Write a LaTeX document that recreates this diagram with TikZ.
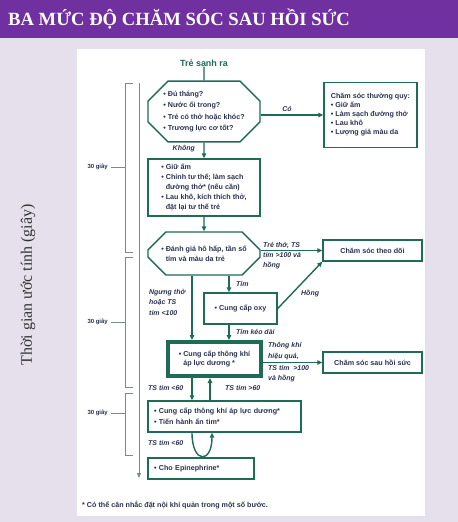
\documentclass[tikz,border=0pt]{standalone}
\usepackage{fontspec}
\setmainfont{Liberation Serif}
\setsansfont{Liberation Sans}
\usetikzlibrary{shapes.misc,arrows.meta}
\definecolor{titlebar}{HTML}{7030A0}
\definecolor{pagebg}{HTML}{E5E0EB}
\definecolor{boxgreen}{HTML}{1E6B56}
\definecolor{boxtext}{HTML}{2B3252}
\definecolor{timegray}{HTML}{7A8A89}
\newcommand{\bl}{\textbullet\ }
\newcommand{\hang}{\hphantom{\textbullet\ }}

\begin{document}
\begin{tikzpicture}[x=1bp,y=-1bp,
  every node/.style={inner sep=0pt,text=boxtext,font=\sffamily\bfseries\fontsize{7.2}{10}\selectfont},
  carebox/.style={draw=boxgreen,line width=1.4bp,rectangle,align=left},
  checkbox/.style={carebox,chamfered rectangle,chamfered rectangle sep=10bp},
  leftbox/.style={carebox,text width=#1,inner xsep=6bp},
  flow/.style={draw=boxgreen,line width=1.4bp,-{Triangle[length=5bp,width=4.5bp]}},
  note/.style={font=\sffamily\bfseries\itshape\fontsize{7}{10.5}\selectfont,align=left},
  timeline/.style={draw=timegray,line width=0.8bp}]
\useasboundingbox (0,0) rectangle (458,522);
% page
\fill[pagebg] (0,0) rectangle (458,522);
\fill[titlebar] (0,0) rectangle (458,38);
\fill[white] (77,49) rectangle (425,516);
\node[anchor=west,text=white,font=\rmfamily\bfseries\fontsize{18.7}{20}\selectfont] (title) at (8,19) {BA MỨC ĐỘ CHĂM SÓC SAU HỒI SỨC};
\node[rotate=90,text=black!80,font=\rmfamily\fontsize{16}{18}\selectfont] (timelabel) at (28,285) {Thời gian ước tính (giây)};

% timeline
\draw[timeline,-{Triangle[length=5bp,width=4bp]}] (139,83) -- (139,478);
\draw[timeline] (133,83) -- (125,83) -- (125,252) -- (133,252);
\draw[timeline] (133,257) -- (125,257) -- (125,387) -- (133,387);
\draw[timeline] (133,393) -- (125,393) -- (125,455) -- (133,455);
\node[anchor=east,font=\sffamily\bfseries\fontsize{6}{7}\selectfont] (first) at (108,167) {30 giây};
\node[anchor=east,font=\sffamily\bfseries\fontsize{6}{7}\selectfont] (second) at (108,322) {30 giây};
\node[anchor=east,font=\sffamily\bfseries\fontsize{6}{7}\selectfont] (third) at (108,413) {30 giây};
\draw[timeline] (first.east) ++(3,0) -- (125,167);
\draw[timeline] (second.east) ++(3,0) -- (125,322);
\draw[timeline] (third.east) ++(3,0) -- (125,413);

% boxes
\node[text=boxgreen,font=\sffamily\bfseries\fontsize{9}{10}\selectfont] (birth) at (204,63) {Trẻ sanh ra};
\node[checkbox,minimum width=112bp,minimum height=57bp,font=\sffamily\bfseries\fontsize{7.2}{11.3}\selectfont] (assess) at (204,111.5)
  {\bl Đủ tháng?\\ \bl Nước ối trong?\\ \bl Trẻ có thở hoặc khóc?\\ \bl Trương lực cơ tốt?};
\node[carebox,minimum width=112bp,minimum height=57bp] (initial) at (204,187.5)
  {\bl Giữ ấm\\ \bl Chỉnh tư thế; làm sạch\\ \hang đường thở* (nếu cần)\\ \bl Lau khô, kích thích thở,\\ \hang đặt lại tư thế trẻ};
\node[carebox,minimum width=93bp,minimum height=65bp,font=\sffamily\bfseries\fontsize{7.2}{9}\selectfont] (routine) at (370.5,115)
  {Chăm sóc thường quy:\\ \bl Giữ ấm\\ \bl Làm sạch đường thở\\ \bl Lau khô\\ \bl Lượng giá màu da};
\node[checkbox,minimum width=112bp,minimum height=43bp] (evaluate) at (204,253.5)
  {\bl Đánh giá hô hấp, tần số\\ \hang tím và màu da trẻ};
\node[carebox,minimum width=99bp,minimum height=21bp] (observe) at (372.5,250.5) {Chăm sóc theo dõi};
\node[carebox,minimum width=73bp,minimum height=31bp] (oxygen) at (240.5,308.5) {\bl Cung cấp oxy};
\node[carebox,line width=4bp,minimum width=93bp,minimum height=34bp] (ppv) at (214.5,359)
  {\bl Cung cấp thông khí\\ \hang áp lực dương *};
\node[carebox,minimum width=99bp,minimum height=21bp] (postcare) at (372.5,362.5) {Chăm sóc sau hồi sức};
\node[leftbox=141bp,minimum height=31bp,font=\sffamily\bfseries\fontsize{7.2}{11}\selectfont] (compress) at (224.5,416.5)
  {\bl Cung cấp thông khí áp lực dương*\\ \bl Tiến hành ấn tim*};
\node[leftbox=94bp,minimum height=21bp] (epi) at (201,468.5) {\bl Cho Epinephrine*};

% connectors
\draw[draw=boxgreen,line width=1.4bp] (birth) -- (assess);
\draw[flow] (assess) -- (initial);
\node[note,anchor=east] (no) at (195,149) {Không};
\draw[flow] (assess.east |- routine.west) -- (routine.west);
\node[note,anchor=south] (yes) at (287,112) {Có};
\draw[flow] (initial) -- (evaluate);
\draw[flow] (evaluate.east |- observe.west) -- (observe.west);
\node[note,anchor=south west] (breathing) at (263,249) {Trẻ thở, TS};
\node[note,anchor=north west] (pinkish) at (263,252) {tim >100 và\\ hồng};
\draw[flow] (229,0 |- evaluate.south) -- (229,0 |- oxygen.north);
\node[note,anchor=west] (cyanotic) at (236,284) {Tím};
\draw[flow] (192,0 |- evaluate.south) -- (192,0 |- ppv.north);
\node[note,anchor=north west] (apnea) at (149,289) {Ngưng thở\\ hoặc TS\\ tim <100};
\draw[flow] (oxygen.east) -- (observe.south west);
\node[note,anchor=west] (pink) at (301,294) {Hồng};
\draw[flow] (229,0 |- oxygen.south) -- (229,0 |- ppv.north);
\node[note,anchor=west] (persistent) at (236,332) {Tím kéo dài};
\draw[flow] (ppv.east |- postcare.west) -- (postcare.west);
\node[note,anchor=south west] (effective) at (268,360) {Thông khí\\ hiệu quả,};
\node[note,anchor=north west] (recovered) at (268,365) {TS tim \ >100\\ và hồng};
\draw[flow] (192,0 |- ppv.south) -- (192,0 |- compress.north);
\node[note,anchor=west] (low) at (148,388) {TS tim <60};
\draw[flow] (210,0 |- compress.north) -- (210,0 |- ppv.south);
\node[note,anchor=west] (high) at (225,388) {TS tim >60};
\draw[flow] (192,0 |- compress.south) .. controls (192,464) and (212,464) .. (212,0 |- compress.south);
\node[note,anchor=west] (stilllow) at (148,443) {TS tim <60};

\node[anchor=west] (footnote) at (82,505) {* Có thể cân nhắc đặt nội khí quản trong một số bước.};
\end{tikzpicture}
\end{document}
